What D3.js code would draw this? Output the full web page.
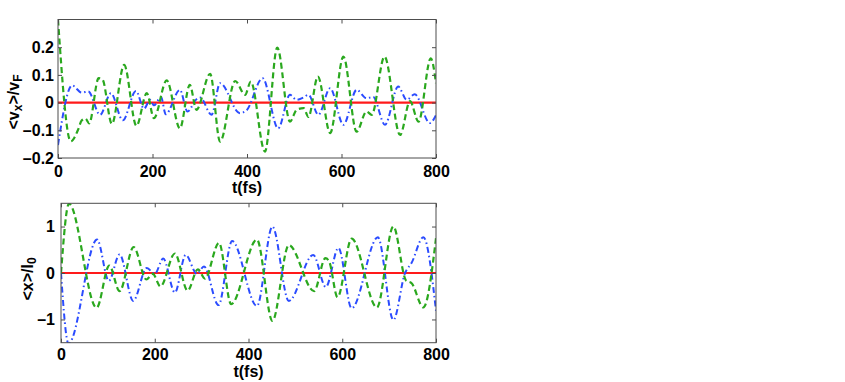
<!DOCTYPE html>
<html>
<head>
<meta charset="utf-8">
<script src="https://cdn.jsdelivr.net/npm/d3@7"></script>
<style>
  html, body { margin: 0; padding: 0; background: #fff; }
  svg { display: block; font-family: "Liberation Sans", Arial, Helvetica, sans-serif; font-weight: bold; }
</style>
</head>
<body>
<svg id="chart" width="845" height="382"></svg>
<script>
// ---------- data ----------
const xTicks = [0, 200, 400, 600, 800];
const vTicks = [-0.2, -0.1, 0, 0.1, 0.2];
const vTickLabels = ["\u20130.2", "\u20130.1", "0", "0.1", "0.2"];
const xPosTicks = [-1, 0, 1];
const xPosTickLabels = ["\u20131", "0", "1"];

// top panel: <v_x>/v_F
const vRedT = [0, 800];
const vRed = [0, 0];
const vGreenT = [0, 27, 42, 50, 58, 66, 86, 94, 114, 140, 166, 188, 203, 230, 258, 279, 293, 322, 343, 375, 396, 408, 438, 464, 491, 505, 520, 530, 550, 576, 604, 632, 653, 664, 691, 724, 745, 763, 789, 800];
const vGreen = [0.30, -0.14, -0.10, -0.065, -0.058, -0.075, 0.088, 0.084, -0.077, 0.136, -0.084, 0.034, -0.056, 0.08, -0.093, 0.064, -0.026, 0.104, -0.141, 0.078, 0.028, 0.076, -0.177, 0.199, -0.069, -0.026, -0.02, -0.052, 0.094, -0.11, 0.166, -0.105, -0.032, -0.044, 0.166, -0.117, 0.005, -0.069, 0.16, 0.07];
const vBlueT = [0, 30, 50, 64, 89, 112, 137, 165, 182, 195, 203, 218, 228, 258, 274, 293, 301, 325, 343, 385, 399, 433, 466, 491, 505, 519, 530, 551, 576, 604, 632, 653, 667, 692, 720, 738, 755, 787, 800];
const vBlue = [-0.153, 0.062, 0.036, 0.04, -0.044, 0.034, -0.064, 0.042, -0.022, 0.01, -0.01, 0.02, -0.042, 0.046, -0.032, 0.012, 0.018, -0.044, 0.07, -0.038, -0.028, 0.088, -0.093, 0.028, 0.01, 0.018, 0.028, -0.044, 0.052, -0.08, 0.046, 0.016, 0.02, -0.08, 0.058, 0.01, 0.03, -0.074, -0.045];

// bottom panel: <x>/l_0
const xRedT = [0, 800];
const xRed = [0, 0];
const xGreenT = [0, 17, 76, 103, 125, 155, 182, 196, 212, 243, 270, 292, 307, 337, 363, 418, 451, 486, 540, 564, 572, 590, 620, 674, 709, 736, 748, 773, 800];
const xGreen = [0, 1.49, -0.75, 0.16, -0.39, 0.56, -0.14, -0.02, -0.29, 0.42, -0.38, 0.08, -0.12, 0.65, -0.67, 0.72, -1.03, 0.6, -0.39, 0.32, 0.25, -0.52, 0.74, -0.74, 1.0, -0.16, -0.22, -0.74, 0.75];
const xBlueT = [0, 16, 77, 102, 125, 154, 183, 200, 218, 243, 266, 290, 305, 336, 365, 418, 451, 486, 538, 565, 592, 620, 676, 709, 734, 748, 773, 800];
const xBlue = [0, -1.52, 0.72, -0.17, 0.4, -0.6, 0.11, -0.02, 0.31, -0.42, 0.39, -0.02, 0.14, -0.69, 0.69, -0.71, 1.0, -0.6, 0.39, -0.3, 0.54, -0.76, 0.77, -1.01, 0.0, 0.22, 0.77, -0.81];

// ---------- drawing ----------
const svg = d3.select("#chart");
const frameColor = "#4d4d4d";

function zip(ts, vs) { return ts.map((t, i) => ({ t: t, v: vs[i] })); }

function panel(cfg) {
  const x = d3.scaleLinear().domain([0, 800]).range([cfg.left, cfg.right]);
  const y = d3.scaleLinear().domain(cfg.yDomain).range([cfg.bottom, cfg.top]);
  const clipId = "clip" + cfg.id;
  svg.append("clipPath").attr("id", clipId)
    .append("rect").attr("x", cfg.left).attr("y", cfg.top)
    .attr("width", cfg.right - cfg.left).attr("height", cfg.bottom - cfg.top);

  const g = svg.append("g");
  const line = d3.line().x(d => x(d.t)).y(d => y(d.v)).curve(d3.curveMonotoneX);

  const series = [
    { data: zip(cfg.redT, cfg.red), color: "#ff1a1a", width: 2.2, dash: null },
    { data: zip(cfg.blueT, cfg.blue), color: "#2b4cff", width: 2, dash: "6,3,1.5,3" },
    { data: zip(cfg.greenT, cfg.green), color: "#2aa81e", width: 2.2, dash: "6,3.5" }
  ];
  const lines = g.append("g").attr("clip-path", `url(#${clipId})`);
  series.forEach(s => {
    lines.append("path").datum(s.data)
      .attr("d", line)
      .attr("fill", "none")
      .attr("stroke", s.color)
      .attr("stroke-width", s.width)
      .attr("stroke-dasharray", s.dash);
  });

  // frame
  g.append("rect").attr("x", cfg.left).attr("y", cfg.top)
    .attr("width", cfg.right - cfg.left).attr("height", cfg.bottom - cfg.top)
    .attr("fill", "none").attr("stroke", frameColor).attr("stroke-width", 1);

  const styleAxis = sel => {
    sel.select(".domain").remove();
    sel.selectAll(".tick line").attr("stroke", frameColor);
    sel.selectAll("text").attr("fill", "#000").style("font-size", "16px")
      .style("font-weight", "bold").style("font-family", '"Liberation Sans", Arial, sans-serif');
  };

  g.append("g").attr("transform", `translate(0,${cfg.bottom})`)
    .call(d3.axisBottom(x).tickValues(xTicks).tickFormat(d3.format("d"))
      .tickSizeInner(-4).tickSizeOuter(0).tickPadding(cfg.xPad))
    .call(styleAxis);
  g.append("g").attr("transform", `translate(0,${cfg.top})`)
    .call(d3.axisTop(x).tickValues(xTicks).tickFormat("").tickSizeInner(-4).tickSizeOuter(0))
    .call(styleAxis);
  g.append("g").attr("transform", `translate(${cfg.left},0)`)
    .call(d3.axisLeft(y).tickValues(cfg.yTicks).tickFormat((d, i) => cfg.yLabels[i])
      .tickSizeInner(-4).tickSizeOuter(0).tickPadding(cfg.yPad))
    .call(styleAxis);
  g.append("g").attr("transform", `translate(${cfg.right},0)`)
    .call(d3.axisRight(y).tickValues(cfg.yTicks).tickFormat("").tickSizeInner(-4).tickSizeOuter(0))
    .call(styleAxis);

  // x label
  g.append("text").attr("x", (cfg.left + cfg.right) / 2).attr("y", cfg.xLabelY)
    .attr("text-anchor", "middle").style("font-size", "16px").text("t(fs)");

  // y label
  const yl = g.append("text")
    .attr("transform", `translate(${cfg.yLabelX},${cfg.yLabelY}) rotate(-90)`)
    .attr("text-anchor", "middle").style("font-size", "16px");
  cfg.yLabelParts.forEach(p => {
    const ts = yl.append("tspan").text(p.text);
    if (p.sub) ts.attr("baseline-shift", "-28%").style("font-size", "12px");
  });
}

panel({
  id: "top", left: 58, right: 436, top: 19.5, bottom: 158,
  yDomain: [-0.2, 0.3], yTicks: vTicks, yLabels: vTickLabels,
  xPad: 8, yPad: 4, xLabelY: 193,
  yLabelX: 19, yLabelY: 102,
  yLabelParts: [{ text: "<v" }, { text: "x", sub: true }, { text: ">/v" }, { text: "F", sub: true }],
  redT: vRedT, red: vRed, greenT: vGreenT, green: vGreen, blueT: vBlueT, blue: vBlue
});

panel({
  id: "bot", left: 61, right: 436, top: 203.3, bottom: 342.7,
  yDomain: [-1.5, 1.5], yTicks: xPosTicks, yLabels: xPosTickLabels,
  xPad: 6, yPad: 6, xLabelY: 377,
  yLabelX: 33, yLabelY: 279,
  yLabelParts: [{ text: "<x>/l" }, { text: "0", sub: true }],
  redT: xRedT, red: xRed, greenT: xGreenT, green: xGreen, blueT: xBlueT, blue: xBlue
});
</script>
</body>
</html>
